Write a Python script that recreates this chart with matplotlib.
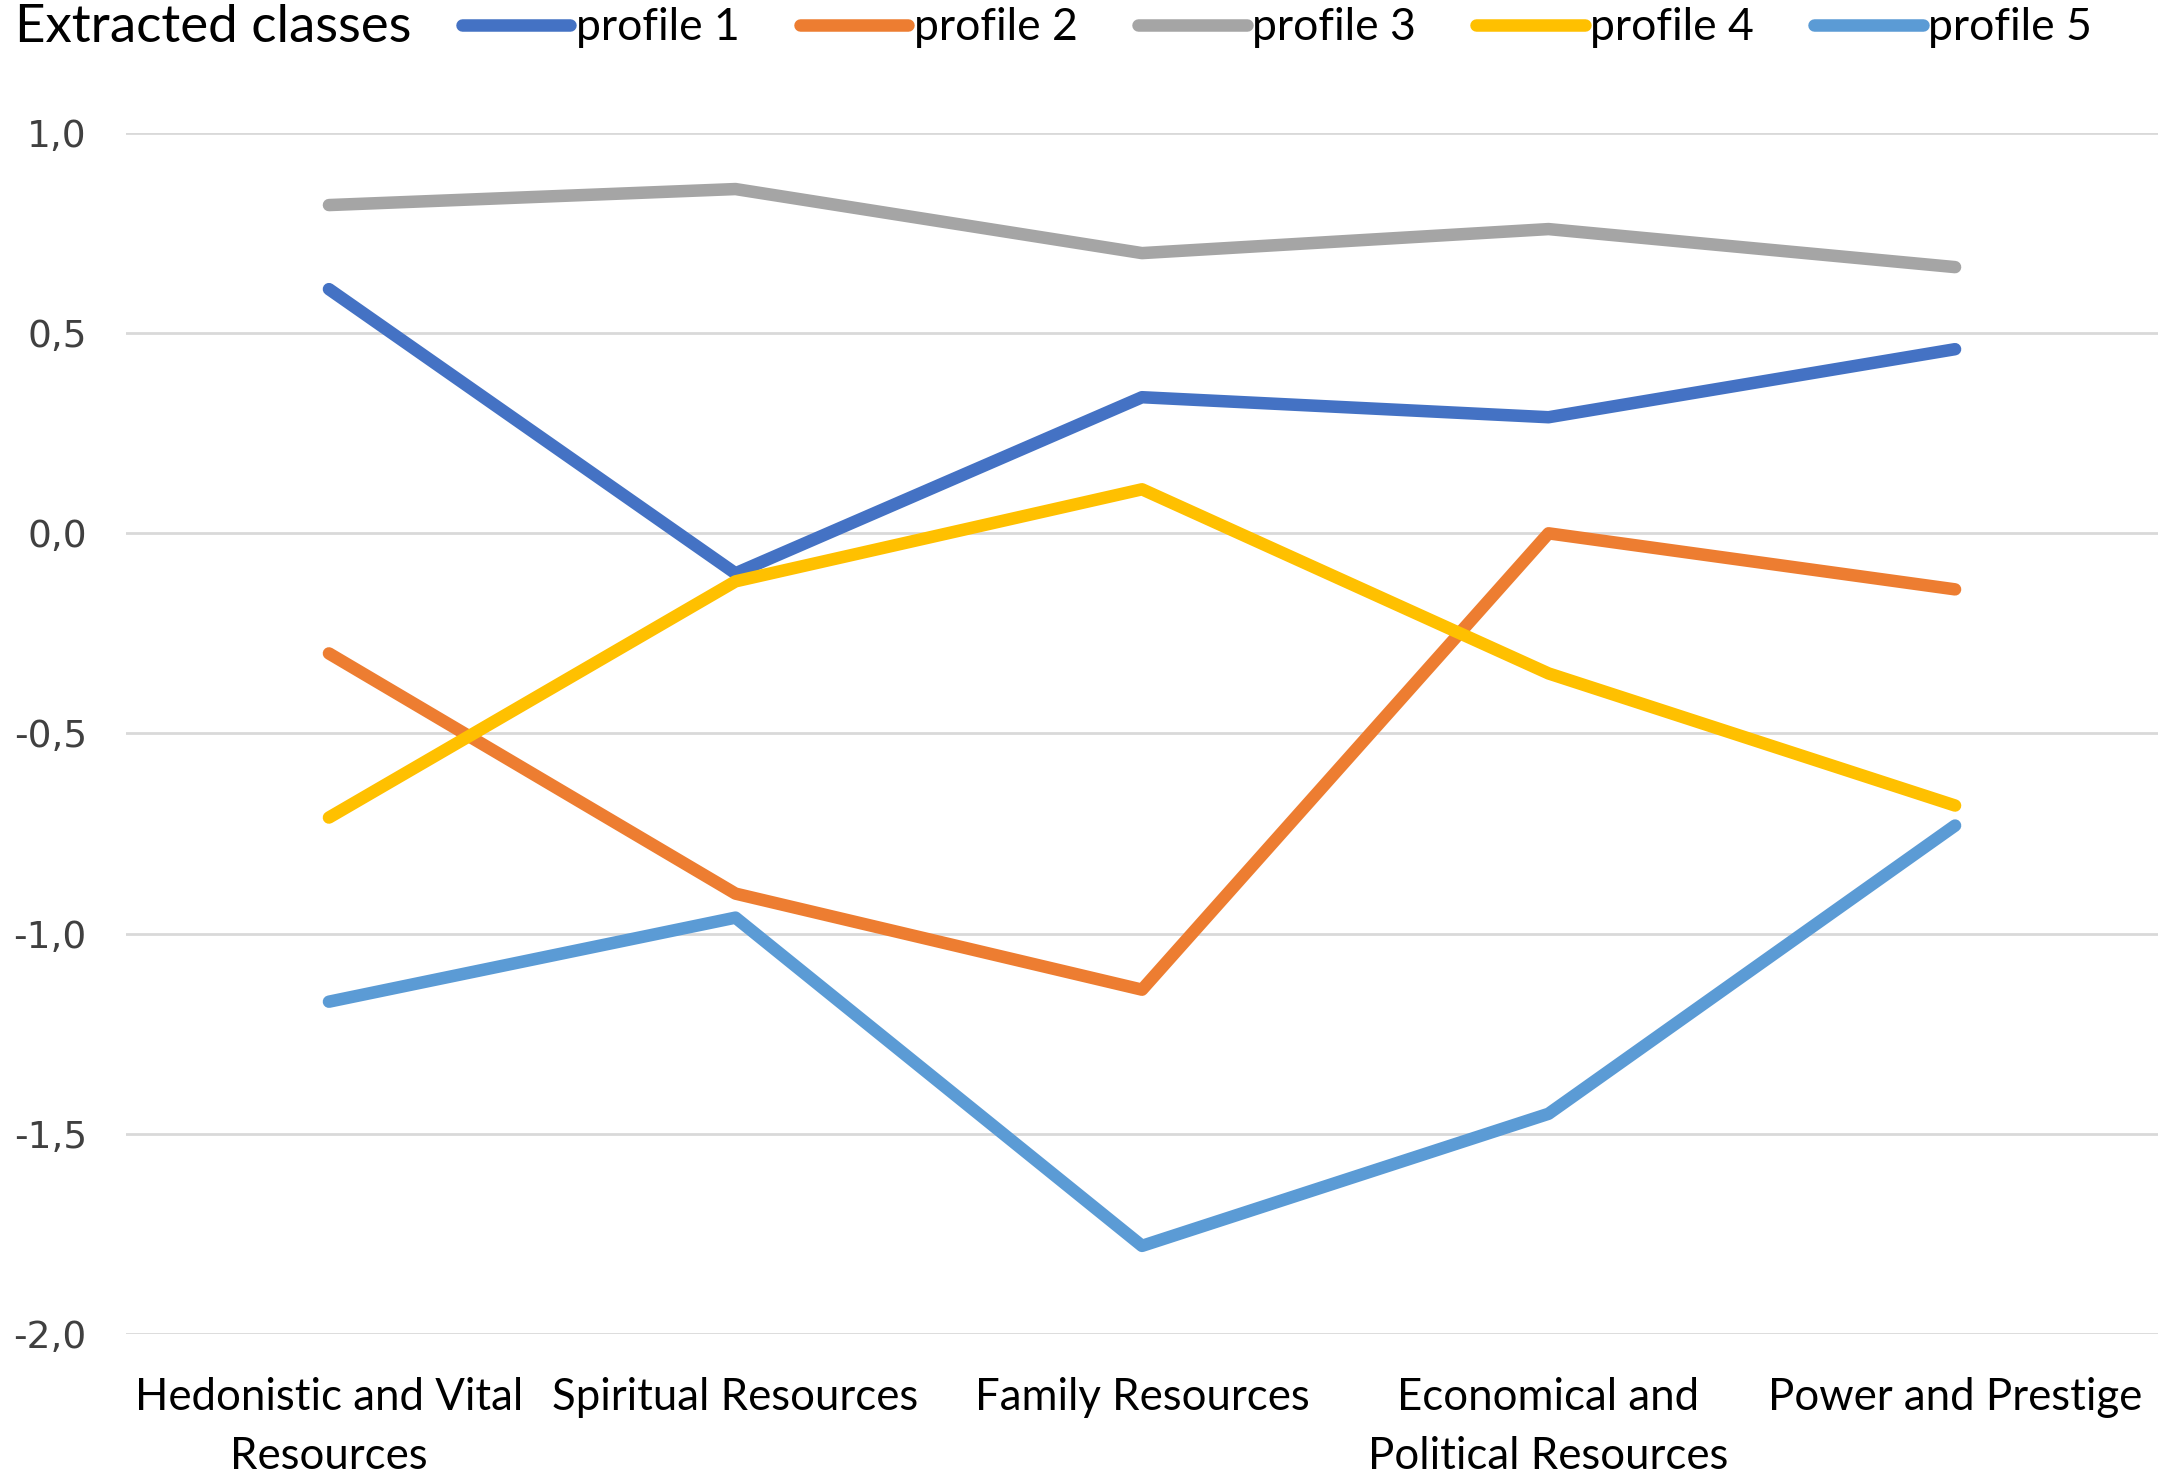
import numpy as np
import matplotlib.pyplot as plt
from matplotlib.ticker import FuncFormatter

# categories and profile values
categories = ['Hedonistic and Vital\nResources', 'Spiritual Resources', 'Family Resources',
              'Economical and\nPolitical Resources', 'Power and Prestige']
profile_1 = [0.61, -0.10, 0.34, 0.29, 0.46]
profile_2 = [-0.30, -0.90, -1.14, 0.00, -0.14]
profile_3 = [0.82, 0.86, 0.70, 0.76, 0.665]
profile_4 = [-0.71, -0.12, 0.11, -0.35, -0.68]
profile_5 = [-1.17, -0.96, -1.78, -1.45, -0.73]
series_names = ['profile 1', 'profile 2', 'profile 3', 'profile 4', 'profile 5']
y_ticks = [-2.0, -1.5, -1.0, -0.5, 0.0, 0.5, 1.0]

colors = ['#4472C4', '#ED7D31', '#A5A5A5', '#FFC000', '#5B9BD5']
txt_font = ['Lato', 'DejaVu Sans']

fig = plt.figure(figsize=(21.67, 14.73), dpi=100)
ax = fig.add_axes([0.058, 0.0944, 0.938, 0.8153])

x = np.arange(len(categories))
for vals, name, c in zip([profile_1, profile_2, profile_3, profile_4, profile_5], series_names, colors):
    ax.plot(x, vals, color=c, lw=9, solid_capstyle='round', solid_joinstyle='round', label=name, zorder=3)

ax.set_xlim(-0.5, len(categories) - 0.5)
ax.set_ylim(-2.0, 1.0)
ax.set_yticks(y_ticks)
ax.yaxis.set_major_formatter(FuncFormatter(lambda v, p: f'{v:.1f}'.replace('.', ',')))
ax.grid(axis='y', color='#D9D9D9', lw=2, zorder=0)
ax.set_xticks(x)
ax.set_xticklabels(categories, fontsize=31.5, family=txt_font, linespacing=1.55)
for lab in ax.get_yticklabels():
    lab.set_fontsize(27)
    lab.set_color('#404040')
ax.tick_params(axis='both', length=0)
ax.tick_params(axis='x', pad=31)
ax.tick_params(axis='y', pad=28)
for s in ax.spines.values():
    s.set_visible(False)

# legend row at the top
fig.text(0.007, 0.981, 'Extracted classes', fontsize=38, family=txt_font, va='center', ha='left')
fig.legend(loc='center left', bbox_to_anchor=(0.213, 0.981), ncol=5, frameon=False,
           prop={'family': txt_font, 'size': 32}, handlelength=2.45, handletextpad=0.12,
           columnspacing=1.35, borderaxespad=0, borderpad=0)

fig.savefig('out.png', dpi=100)
